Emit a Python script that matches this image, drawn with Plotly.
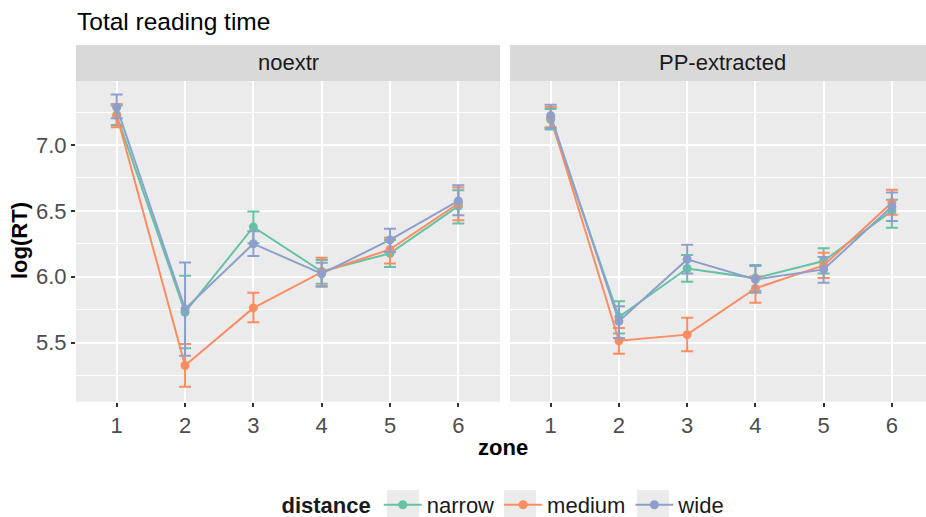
import plotly.graph_objects as go

# ---------------- data ----------------
zones = [1, 2, 3, 4, 5, 6]
zone_labels = ["1", "2", "3", "4", "5", "6"]
y_ticks = [5.5, 6.0, 6.5, 7.0]
y_tick_labels = ["5.5", "6.0", "6.5", "7.0"]
panels = ["noextr", "PP-extracted"]
distances = ["narrow", "medium", "wide"]

noextr_narrow = [7.225, 5.731, 6.378, 6.040, 6.178, 6.536]
noextr_narrow_lo = [7.152, 5.457, 6.254, 5.947, 6.074, 6.404]
noextr_narrow_hi = [7.300, 6.008, 6.495, 6.127, 6.280, 6.657]

noextr_medium = [7.228, 5.327, 5.764, 6.035, 6.208, 6.556]
noextr_medium_lo = [7.135, 5.165, 5.655, 5.930, 6.100, 6.430]
noextr_medium_hi = [7.312, 5.490, 5.878, 6.145, 6.297, 6.677]

noextr_wide = [7.287, 5.756, 6.251, 6.023, 6.280, 6.576]
noextr_wide_lo = [7.203, 5.401, 6.157, 5.924, 6.188, 6.467]
noextr_wide_hi = [7.383, 6.109, 6.345, 6.107, 6.365, 6.695]

pp_narrow = [7.193, 5.695, 6.063, 5.990, 6.120, 6.500]
pp_narrow_lo = [7.117, 5.569, 5.962, 5.894, 6.025, 6.373]
pp_narrow_hi = [7.274, 5.815, 6.165, 6.090, 6.216, 6.584]

pp_medium = [7.210, 5.515, 5.561, 5.912, 6.086, 6.563]
pp_medium_lo = [7.135, 5.416, 5.434, 5.803, 5.990, 6.470]
pp_medium_hi = [7.289, 5.612, 5.690, 6.005, 6.183, 6.660]

pp_wide = [7.223, 5.662, 6.132, 5.980, 6.056, 6.533]
pp_wide_lo = [7.127, 5.536, 6.025, 5.879, 5.954, 6.424]
pp_wide_hi = [7.305, 5.777, 6.244, 6.081, 6.150, 6.640]

colors = {"narrow": "#66C2A5", "medium": "#FC8D62", "wide": "#8DA0CB"}

series = {
    ("noextr", "narrow"): (noextr_narrow, noextr_narrow_lo, noextr_narrow_hi),
    ("noextr", "medium"): (noextr_medium, noextr_medium_lo, noextr_medium_hi),
    ("noextr", "wide"): (noextr_wide, noextr_wide_lo, noextr_wide_hi),
    ("PP-extracted", "narrow"): (pp_narrow, pp_narrow_lo, pp_narrow_hi),
    ("PP-extracted", "medium"): (pp_medium, pp_medium_lo, pp_medium_hi),
    ("PP-extracted", "wide"): (pp_wide, pp_wide_lo, pp_wide_hi),
}

# ---------------- layout helpers ----------------
W, H = 926, 517
FONT = "Liberation Sans, Arial, sans-serif"


def px_x(p):
    return p / W


def px_y(p):
    return 1 - p / H


PANEL_TOP, PANEL_BOT = 81, 401.7
STRIP_TOP = 45
P1 = (76, 500)
P2 = (510, 926)
LEGEND_KEY_CENTERS = [403, 520, 653]

fig = go.Figure()

for pi, panel in enumerate(panels):
    xa = "x" if pi == 0 else "x2"
    ya = "y" if pi == 0 else "y2"
    for d in distances:
        vals, lo, hi = series[(panel, d)]
        plus = [h - v for h, v in zip(hi, vals)]
        minus = [v - l for v, l in zip(vals, lo)]
        fig.add_trace(go.Scatter(
            x=zones, y=vals, xaxis=xa, yaxis=ya,
            mode="lines+markers", name=d,
            legendgroup=d, showlegend=(pi == 0),
            line=dict(color=colors[d], width=2),
            marker=dict(color=colors[d], size=9),
            error_y=dict(type="data", symmetric=False, array=plus,
                         arrayminus=minus, color=colors[d],
                         thickness=2, width=6),
        ))

axis_common = dict(
    showgrid=True, gridcolor="white", gridwidth=2, zeroline=False,
    ticks="outside", ticklen=4, tickwidth=2, tickcolor="#333333",
    tickfont=dict(family=FONT, size=22, color="#4D4D4D"),
    showline=False, automargin=False,
)

fig.update_layout(
    width=W, height=H,
    margin=dict(l=0, r=0, t=0, b=0, autoexpand=False),
    paper_bgcolor="white", plot_bgcolor="#EBEBEB",
    font=dict(family=FONT, color="#1A1A1A"),
    xaxis=dict(domain=[px_x(P1[0]), px_x(P1[1])], range=[0.404, 6.61],
               tickvals=zones, ticktext=zone_labels, anchor="y", **axis_common),
    xaxis2=dict(domain=[px_x(P2[0]), px_x(P2[1])], range=[0.404, 6.5],
                tickvals=zones, ticktext=zone_labels, anchor="y2", **axis_common),
    yaxis=dict(domain=[px_y(PANEL_BOT), px_y(PANEL_TOP)], range=[5.052, 7.486],
               tickvals=y_ticks, ticktext=y_tick_labels, anchor="x",
               minor=dict(dtick=0.25, tick0=5.25, showgrid=True,
                          gridcolor="white", gridwidth=1, ticks=""),
               **axis_common),
    yaxis2=dict(domain=[px_y(PANEL_BOT), px_y(PANEL_TOP)], range=[5.052, 7.486],
                tickvals=y_ticks, anchor="x2", matches="y", automargin=False,
                showgrid=True, gridcolor="white", gridwidth=2, zeroline=False,
                showticklabels=False, ticks="",
                minor=dict(dtick=0.25, tick0=5.25, showgrid=True,
                           gridcolor="white", gridwidth=1, ticks="")),
    showlegend=True,
    legend=dict(
        orientation="h", x=px_x(505), xanchor="center",
        y=px_y(505), yanchor="middle",
        title=dict(text="<b>distance</b>", side="left",
                   font=dict(family=FONT, size=22, color="#1A1A1A")),
        font=dict(family=FONT, size=22, color="#1A1A1A"),
        bgcolor="rgba(0,0,0,0)", itemwidth=38, tracegroupgap=0,
    ),
)

# strips
for (x0, x1), label in zip([P1, P2], panels):
    fig.add_shape(type="rect", xref="paper", yref="paper",
                  x0=px_x(x0), x1=px_x(x1), y0=px_y(PANEL_TOP), y1=px_y(STRIP_TOP),
                  fillcolor="#D9D9D9", line=dict(width=0), layer="below")
    fig.add_annotation(text=label, xref="paper", yref="paper",
                       x=px_x(x0 + 212), y=px_y(63),
                       xanchor="center", yanchor="middle", showarrow=False,
                       font=dict(family=FONT, size=22, color="#1A1A1A"))

# grey legend key backgrounds (ggplot style)
for cx in LEGEND_KEY_CENTERS:
    fig.add_shape(type="rect", xref="paper", yref="paper",
                  x0=px_x(cx - 16), x1=px_x(cx + 16),
                  y0=px_y(519), y1=px_y(490),
                  fillcolor="#EBEBEB", line=dict(width=0), layer="below")

# title
fig.add_annotation(text="Total reading time", xref="paper", yref="paper",
                   x=px_x(75), y=px_y(22), xanchor="left", yanchor="middle",
                   showarrow=False, font=dict(family=FONT, size=24.5, color="black"))
# axis titles
fig.add_annotation(text="<b>zone</b>", xref="paper", yref="paper",
                   x=px_x(503), y=px_y(447), xanchor="center", yanchor="middle",
                   showarrow=False, font=dict(family=FONT, size=22, color="black"))
fig.add_annotation(text="<b>log(RT)</b>", xref="paper", yref="paper",
                   x=px_x(19), y=px_y(241), xanchor="center", yanchor="middle",
                   textangle=-90, showarrow=False,
                   font=dict(family=FONT, size=22, color="black"))

fig.write_html("out.html", config={"displayModeBar": False},
               post_script="document.body.style.margin='0';"
                           "document.body.style.overflow='hidden';")
